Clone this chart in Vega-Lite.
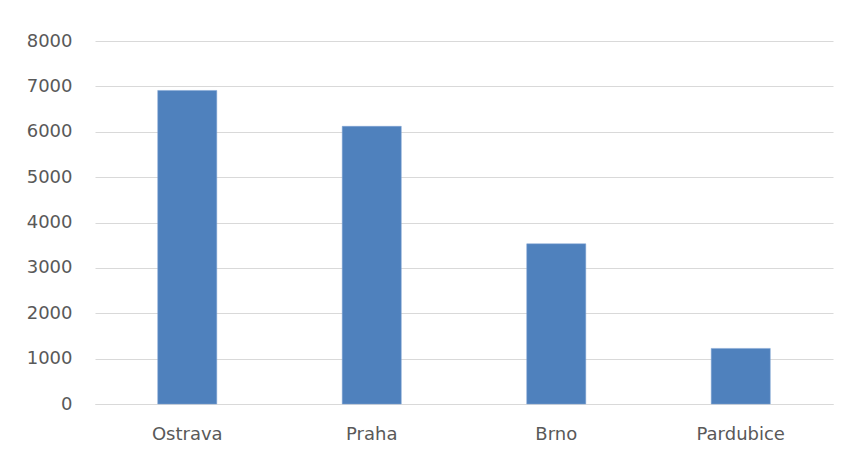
{
  "$schema": "https://vega.github.io/schema/vega-lite/v6.json",
  "autosize": "none",
  "width": 738,
  "height": 363,
  "padding": {"left": 95, "top": 41, "right": 16, "bottom": 55},
  "background": "white",
  "data": {"values": [
    {"city": "Ostrava", "value": 6910},
    {"city": "Praha", "value": 6120},
    {"city": "Brno", "value": 3530},
    {"city": "Pardubice", "value": 1225}
  ]},
  "mark": {"type": "bar", "color": "#4f81bd", "stroke": "#7fa3d3", "strokeWidth": 0.5},
  "encoding": {
    "x": {
      "field": "city", "type": "nominal", "sort": null, "title": null,
      "scale": {"paddingInner": 0.68, "paddingOuter": 0.34},
      "axis": {"labelAngle": 0, "ticks": false, "domainColor": "#d9d9d9", "domainWidth": 1,
               "labelPadding": 21, "labelFont": "DejaVu Sans", "labelFontSize": 18, "labelColor": "#595959"}
    },
    "y": {
      "field": "value", "type": "quantitative", "title": null,
      "scale": {"domain": [0, 8000], "nice": false},
      "axis": {"values": [0,1000,2000,3000,4000,5000,6000,7000,8000], "format": "d", "ticks": false, "domain": false,
               "gridColor": "#d9d9d9", "gridWidth": 1, "labelPadding": 23,
               "labelFont": "DejaVu Sans", "labelFontSize": 18, "labelColor": "#595959"}
    }
  },
  "config": {"view": {"stroke": null}}
}
